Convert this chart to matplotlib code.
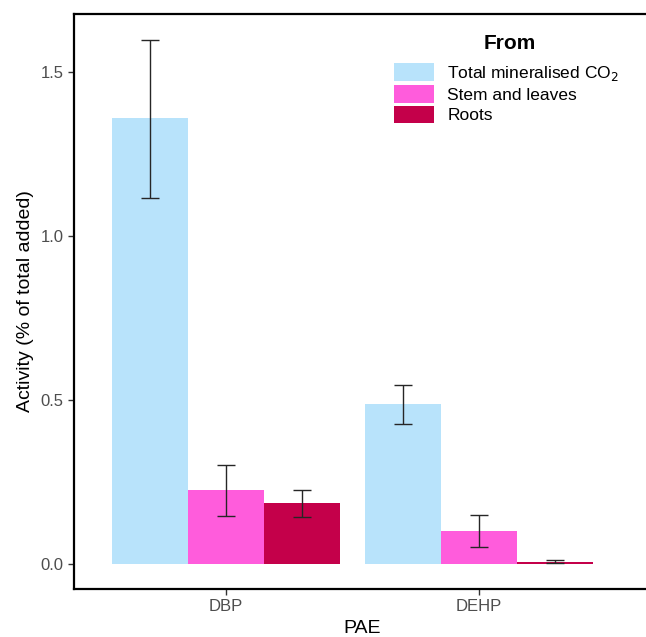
import matplotlib.pyplot as plt
import numpy as np
from matplotlib.patches import Patch

plt.rcParams['font.family'] = ['Liberation Sans', 'DejaVu Sans']

paes = ["DBP", "DEHP"]
sources = ["Total mineralised CO$_2$", "Stem and leaves", "Roots"]
colors = ["#B8E3FB", "#FF5CDC", "#C4004A"]

means = {
    "Total mineralised CO$_2$": [1.36, 0.488],
    "Stem and leaves": [0.226, 0.100],
    "Roots": [0.186, 0.007],
}
lower = {
    "Total mineralised CO$_2$": [1.116, 0.427],
    "Stem and leaves": [0.146, 0.052],
    "Roots": [0.143, 0.003],
}
upper = {
    "Total mineralised CO$_2$": [1.598, 0.546],
    "Stem and leaves": [0.302, 0.149],
    "Roots": [0.226, 0.012],
}

fig = plt.figure(figsize=(6.46, 6.37), dpi=100)
ax = fig.add_axes([74/646, (637-589)/637, (650-74)/646, (589-14)/637])

x = np.arange(1, len(paes) + 1)
width = 0.3
for i, (src, col) in enumerate(zip(sources, colors)):
    pos = x + (i - 1) * width
    m = np.array(means[src])
    lo = m - np.array(lower[src])
    hi = np.array(upper[src]) - m
    ax.bar(pos, m, width=width, color=col, edgecolor="none")
    ax.errorbar(pos, m, yerr=[lo, hi], fmt="none", ecolor="#262626",
                elinewidth=1, capsize=6.5, capthick=1)

ax.set_xlim(0.4, 0.4 + (650-74)/253)
ax.set_ylim(-0.076, 1.677)
ax.set_xticks(x)
ax.set_xticklabels(paes)
ax.set_yticks([0.0, 0.5, 1.0, 1.5])
ax.set_yticklabels(["0.0", "0.5", "1.0", "1.5"])
ax.tick_params(axis="both", colors="#333333", labelcolor="#4D4D4D",
               labelsize=12, length=4, width=1)
for s in ["left", "top", "bottom"]:
    ax.spines[s].set_linewidth(1.6)
ax.spines["right"].set_visible(False)

ax.set_ylabel("Activity (% of total added)", fontsize=14, labelpad=5)
ax.set_xlabel("PAE", fontsize=14, labelpad=4)

handles = [Patch(facecolor=c, edgecolor="none") for c in colors]
leg = ax.legend(handles, sources, loc="upper left",
                bbox_to_anchor=(0.556, 0.915), frameon=False, fontsize=12.5,
                handlelength=2.3, handleheight=1.2, labelspacing=0.15,
                handletextpad=0.75, borderaxespad=0, borderpad=0)
ax.text(0.757, 0.948, "From", transform=ax.transAxes, ha="center",
        va="center", fontsize=15, fontweight="bold")

fig.savefig("out.png", dpi=100)
